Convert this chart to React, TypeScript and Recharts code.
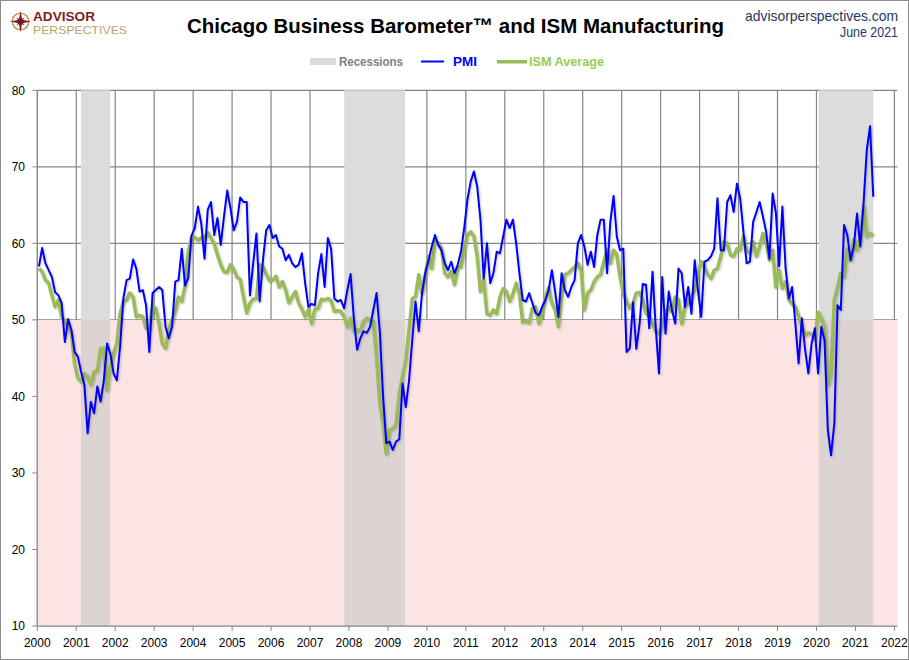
import React from 'react';
import {
  LineChart,
  Line,
  XAxis,
  YAxis,
  CartesianGrid,
  ReferenceArea,
} from 'recharts';

// ---------- DATA ----------
const startYear = 2000;

// Chicago PMI (monthly, Jan 2000 - Jun 2021), one row per year
const pmi: number[] = [
  57.0, 59.4, 57.4, 56.5, 55.6, 53.6, 53.2, 52.2, 47.1, 50.1, 48.7, 45.8,
  45.2, 43.2, 41.5, 35.2, 39.3, 37.8, 41.3, 39.3, 42.1, 46.9, 45.6, 43.0,
  42.1, 46.5, 52.8, 55.2, 55.4, 57.9, 56.7, 53.7, 53.9, 51.9, 45.8, 53.5,
  53.9, 54.3, 53.9, 49.1, 47.6, 49.1, 55.0, 55.2, 59.3, 54.5, 55.5, 61.0,
  62.0, 64.8, 62.6, 58.0, 64.4, 65.4, 61.1, 63.3, 59.8, 63.5, 66.9, 64.6,
  61.7, 62.8, 66.0, 65.4, 65.4, 53.2, 57.4, 61.3, 52.4, 57.8, 61.7, 62.4,
  60.7, 61.1, 59.6, 59.3, 57.8, 58.5, 57.4, 56.9, 57.2, 58.7, 54.8, 51.7,
  52.1, 51.9, 56.1, 58.6, 54.3, 60.7, 59.3, 52.8, 52.4, 52.6, 51.5, 53.9,
  56.0, 50.2, 46.1, 47.6, 48.5, 48.3, 49.1, 51.3, 53.5, 48.5, 40.0, 33.9,
  34.1, 33.0, 34.1, 34.4, 41.7, 38.6, 42.1, 47.4, 52.4, 48.5, 53.5, 56.1,
  57.8, 59.6, 61.1, 59.8, 59.1, 57.4, 56.5, 57.6, 56.1, 57.2, 58.9, 62.0,
  65.7, 68.1, 69.4, 67.4, 63.1, 55.4, 60.0, 54.8, 56.1, 58.9, 58.7, 60.9,
  63.1, 62.0, 63.1, 60.0, 56.1, 52.6, 52.4, 53.5, 52.2, 50.9, 50.6, 51.7,
  52.6, 53.9, 56.5, 53.7, 50.4, 56.1, 53.9, 53.0, 54.3, 55.2, 60.0, 61.1,
  59.6, 57.2, 58.9, 56.9, 61.1, 63.1, 63.1, 56.1, 62.8, 66.2, 60.9, 59.1,
  59.3, 45.8, 46.3, 52.3, 46.2, 49.4, 54.7, 54.6, 48.9, 56.3, 48.9, 43.0,
  55.6, 48.2, 53.7, 51.3, 49.5, 56.7, 56.1, 51.7, 54.3, 50.8, 57.8, 53.9,
  50.4, 57.6, 57.8, 58.3, 59.3, 65.9, 59.1, 59.1, 65.4, 66.3, 64.1, 67.8,
  65.9, 61.5, 57.4, 57.6, 62.8, 64.1, 65.4, 63.5, 61.5, 58.0, 66.5, 64.0,
  57.0, 64.8, 56.7, 52.8, 54.3, 49.5, 44.3, 50.2, 46.1, 43.0, 46.9, 48.9,
  43.0, 49.1, 47.3, 35.6, 32.3, 36.5, 51.9, 51.3, 62.4, 61.1, 57.8, 59.6,
  63.9, 59.6, 65.2, 72.2, 75.3, 66.1,
];

// ISM Manufacturing (monthly, Jan 2000 - Jun 2021), one row per year
const ism: number[] = [
  56.7, 56.3, 55.2, 54.8, 53.2, 51.7, 52.6, 50.4, 49.8, 49.1, 48.2, 44.3,
  42.4, 41.9, 43.0, 42.6, 41.5, 43.2, 43.4, 46.3, 46.3, 40.8, 43.7, 45.6,
  46.9, 50.8, 52.4, 52.6, 53.5, 53.0, 50.4, 50.6, 50.4, 48.9, 48.7, 51.7,
  51.5, 49.5, 46.9, 46.3, 48.7, 50.0, 51.1, 53.0, 52.4, 54.4, 58.9, 60.8,
  60.8, 60.4, 60.7, 60.8, 61.4, 60.7, 59.9, 58.5, 57.2, 56.3, 56.2, 57.2,
  56.6, 55.6, 55.3, 53.0, 50.9, 52.2, 52.7, 52.8, 57.2, 56.9, 56.0, 55.1,
  55.2, 55.7, 54.3, 55.0, 53.9, 52.2, 53.0, 53.7, 52.2, 51.4, 50.4, 51.3,
  49.5, 51.4, 51.5, 52.7, 52.6, 52.8, 52.5, 51.1, 51.2, 51.1, 50.4, 49.1,
  50.2, 48.5, 48.7, 48.5, 49.8, 50.2, 50.0, 49.8, 45.2, 39.1, 36.5, 32.5,
  35.6, 35.8, 36.3, 40.4, 42.6, 44.7, 48.7, 52.8, 53.0, 55.9, 53.5, 55.9,
  58.3, 56.7, 60.4, 60.0, 59.3, 56.1, 55.6, 56.3, 54.6, 56.9, 56.9, 59.1,
  61.1, 61.5, 60.9, 58.3, 53.7, 55.2, 50.8, 50.6, 51.3, 50.8, 53.0, 54.1,
  53.7, 52.4, 53.4, 54.8, 53.5, 49.7, 49.8, 49.6, 51.5, 51.7, 49.5, 50.7,
  53.0, 54.2, 52.2, 51.3, 49.1, 53.2, 55.9, 56.1, 56.5, 56.9, 57.4, 56.5,
  51.3, 53.5, 53.9, 55.0, 55.6, 55.9, 57.6, 59.1, 57.4, 59.1, 58.5, 55.6,
  53.5, 52.4, 51.5, 52.2, 53.5, 53.6, 52.6, 50.9, 50.4, 49.5, 48.5, 48.2,
  49.1, 50.9, 51.7, 51.1, 53.0, 52.6, 49.5, 51.7, 52.2, 53.0, 53.9, 56.1,
  57.6, 56.9, 55.9, 55.4, 56.5, 56.7, 58.3, 60.2, 60.0, 58.5, 58.3, 59.3,
  59.1, 60.9, 59.1, 58.7, 60.2, 58.3, 59.6, 61.3, 60.0, 57.8, 59.1, 54.3,
  56.5, 54.1, 55.0, 52.6, 52.1, 51.7, 50.5, 49.1, 48.0, 48.3, 48.1, 47.5,
  51.0, 50.2, 49.1, 41.5, 43.1, 52.6, 54.3, 56.1, 55.6, 59.3, 57.8, 60.5,
  59.1, 60.8, 64.8, 60.9, 61.3, 61.0,
];

// Recession periods (decimal years)
const recessions: [number, number][] = [
  [2001.12, 2001.87],
  [2007.88, 2009.44],
  [2020.06, 2021.46],
];

const xTicks: number[] = [
  2000, 2001, 2002, 2003, 2004, 2005, 2006, 2007, 2008, 2009, 2010, 2011,
  2012, 2013, 2014, 2015, 2016, 2017, 2018, 2019, 2020, 2021, 2022,
];
const yTicks: number[] = [10, 20, 30, 40, 50, 60, 70, 80];
const xDomain: [number, number] = [2000, 2022.075];
const yDomain: [number, number] = [10, 80];
const threshold = 50;

// table built from the arrays
const rows = pmi.map((v, i) => ({
  t: startYear + (i + 0.5) / 12,
  pmi: v,
  ism: ism[i],
}));

const GRID = '#868686';
const FONT = "'Liberation Sans', Arial, sans-serif";

function Header() {
  return (
    <svg
      width={909}
      height={90}
      style={{ position: 'absolute', left: 0, top: 0, pointerEvents: 'none' }}
    >
      {/* logo icon */}
      <g transform="translate(20.5 21.5)">
        <circle r={8.3} fill="none" stroke="#B89B5E" strokeWidth={1.5} />
        <polygon
          points="0,-10.5 1.7,-1.7 10.5,0 1.7,1.7 0,10.5 -1.7,1.7 -10.5,0 -1.7,-1.7"
          fill="#7A1C1C"
        />
        <polygon points="0,-6 1.3,0 0,6 -1.3,0" fill="#7A1C1C" transform="rotate(45)" />
        <polygon points="0,-6 1.3,0 0,6 -1.3,0" fill="#7A1C1C" transform="rotate(-45)" />
        <circle r={2.3} fill="#7A1C1C" />
      </g>
      <text
        x={33}
        y={21}
        fontFamily={FONT}
        fontWeight={700}
        fontSize={13}
        fill="#7F1D22"
        textLength={62}
        lengthAdjust="spacingAndGlyphs"
      >
        ADVISOR
      </text>
      <text
        x={33}
        y={33.8}
        fontFamily={FONT}
        fontSize={11}
        fill="#BDA26A"
        textLength={94}
        lengthAdjust="spacingAndGlyphs"
      >
        PERSPECTIVES
      </text>
      {/* title */}
      <text
        x={187}
        y={33.3}
        fontFamily={FONT}
        fontWeight={700}
        fontSize={21}
        fill="#000000"
        textLength={537}
        lengthAdjust="spacingAndGlyphs"
      >
        Chicago Business Barometer™ and ISM Manufacturing
      </text>
      {/* source and date */}
      <text
        x={745}
        y={21}
        fontFamily={FONT}
        fontSize={14.5}
        fill="#1F3864"
        textLength={153}
        lengthAdjust="spacingAndGlyphs"
      >
        advisorperspectives.com
      </text>
      <text
        x={840}
        y={37}
        fontFamily={FONT}
        fontSize={14.5}
        fill="#1F3864"
        textLength={58}
        lengthAdjust="spacingAndGlyphs"
      >
        June 2021
      </text>
      {/* legend */}
      <rect x={310} y={58} width={26} height={7} fill="#D9D9D9" />
      <text x={339} y={65.5} fontFamily={FONT} fontWeight={700} fontSize={12} fill="#7F7F7F" textLength={64} lengthAdjust="spacingAndGlyphs">
        Recessions
      </text>
      <rect x={421} y={60.5} width={23} height={2} fill="#0000FF" />
      <text x={453} y={65.5} fontFamily={FONT} fontWeight={700} fontSize={12} fill="#0000FF" textLength={24} lengthAdjust="spacingAndGlyphs">
        PMI
      </text>
      <rect x={497} y={60} width={30} height={3.5} fill="#9BBB59" />
      <text x={529} y={65.5} fontFamily={FONT} fontWeight={700} fontSize={12} fill="#92D050" textLength={75} lengthAdjust="spacingAndGlyphs">
        ISM Average
      </text>
    </svg>
  );
}

export default function App() {
  return (
    <div
      style={{
        position: 'absolute',
        left: 0,
        top: 0,
        width: 909,
        height: 660,
        background: '#FFFFFF',
        overflow: 'hidden',
      }}
    >
      <style>{`.recharts-line-curve{filter:drop-shadow(1.5px 1.5px 1px rgba(0,0,0,0.22));}`}</style>
      <LineChart
        width={909}
        height={660}
        data={rows}
        margin={{ top: 90.3, right: 11.7, bottom: 4, left: 7.3 }}
      >
        <ReferenceArea
          x1={xDomain[0]}
          x2={xDomain[1]}
          y1={yDomain[0]}
          y2={threshold}
          fill="#FDE4E4"
          fillOpacity={1}
          stroke="none"
          ifOverflow="visible"
        />
        {recessions.map(([a, b], i) => (
          <ReferenceArea
            key={'ru' + i}
            x1={a}
            x2={b}
            y1={threshold}
            y2={yDomain[1]}
            fill="#DCDCDC"
            fillOpacity={1}
            stroke="none"
          />
        ))}
        {recessions.map(([a, b], i) => (
          <ReferenceArea
            key={'rl' + i}
            x1={a}
            x2={b}
            y1={yDomain[0]}
            y2={threshold}
            fill="#DCD3D3"
            fillOpacity={1}
            stroke="none"
          />
        ))}
        <CartesianGrid stroke={GRID} strokeWidth={1.2} verticalValues={xTicks} horizontalValues={yTicks} />
        <XAxis
          dataKey="t"
          type="number"
          domain={xDomain}
          ticks={xTicks}
          allowDataOverflow
          height={30}
          tickSize={5}
          tickMargin={7.5}
          stroke={GRID}
          tick={{ fill: '#000000', fontSize: 12, fontFamily: FONT }}
          interval={0}
        />
        <YAxis
          type="number"
          domain={yDomain}
          ticks={yTicks}
          width={30}
          tickSize={5}
          tickMargin={7.3}
          stroke={GRID}
          tick={{ fill: '#000000', fontSize: 12, fontFamily: FONT }}
          interval={0}
        />
        <Line
          type="linear"
          dataKey="ism"
          stroke="#9BBB59"
          strokeWidth={3.5}
          dot={false}
          activeDot={false}
          isAnimationActive={false}
          strokeLinejoin="round"
        />
        <Line
          type="linear"
          dataKey="pmi"
          stroke="#0000FF"
          strokeWidth={2}
          dot={false}
          activeDot={false}
          isAnimationActive={false}
          strokeLinejoin="round"
        />
      </LineChart>

      <Header />
      <div
        style={{
          position: 'absolute',
          left: 0,
          top: 0,
          width: 909,
          height: 660,
          boxSizing: 'border-box',
          border: '1px solid #8C8C8C',
          pointerEvents: 'none',
        }}
      />
    </div>
  );
}
